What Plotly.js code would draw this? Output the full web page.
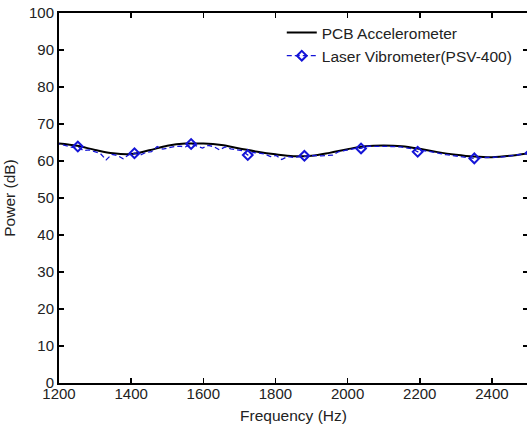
<!DOCTYPE html>
<html>
<head>
<meta charset="utf-8">
<script src="https://cdn.plot.ly/plotly-3.0.1.min.js"></script>
<style>
  html, body { margin: 0; padding: 0; overflow: hidden; background: #fff; }
  #chart { width: 529px; height: 425px; }
</style>
</head>
<body>
<div id="chart"></div>
<script>
// PCB Accelerometer (smooth curve)
const pcbFreq = [1200, 1250, 1300, 1350, 1400, 1450, 1500, 1550, 1600, 1650, 1700, 1750, 1800, 1850,
                 1900, 1950, 2000, 2050, 2100, 2150, 2200, 2250, 2300, 2350, 2400, 2450, 2500];
const pcbPower = [64.7, 64.1, 63.0, 62.1, 61.9, 62.9, 64.1, 64.7, 64.7, 64.3, 63.4, 62.5, 61.8, 61.3,
                  61.4, 62.2, 63.2, 64.0, 64.2, 64.0, 63.3, 62.4, 61.7, 61.2, 61.0, 61.4, 62.1];

// Laser Vibrometer (PSV-400), noisy measurement
const laserFreq = [1189.4, 1205.1, 1220.8, 1236.5, 1252.2, 1267.9, 1283.6, 1299.3, 1315.0, 1330.7,
                   1346.4, 1362.1, 1377.8, 1393.5, 1409.2, 1424.9, 1440.6, 1456.3, 1472.0, 1487.7,
                   1503.4, 1519.1, 1534.8, 1550.5, 1566.2, 1581.9, 1597.6, 1613.3, 1629.0, 1644.7,
                   1660.4, 1676.1, 1691.8, 1707.5, 1723.2, 1738.9, 1754.6, 1770.3, 1786.0, 1801.7,
                   1817.4, 1833.1, 1848.8, 1864.5, 1880.2, 1895.9, 1911.6, 1927.3, 1943.0, 1958.7,
                   1974.4, 1990.1, 2005.8, 2021.5, 2037.2, 2052.9, 2068.6, 2084.3, 2100.0, 2115.7,
                   2131.4, 2147.1, 2162.8, 2178.5, 2194.2, 2209.9, 2225.6, 2241.3, 2257.0, 2272.7,
                   2288.4, 2304.1, 2319.8, 2335.5, 2351.2, 2366.9, 2382.6, 2398.3, 2414.0, 2429.7,
                   2445.4, 2461.1, 2476.8, 2492.5, 2508.2];
const laserPower = [64.9, 64.5, 64.0, 63.7, 63.9, 62.8, 63.0, 62.4, 62.0, 60.3,
                    61.8, 61.5, 60.6, 61.7, 62.1, 61.6, 62.3, 62.5, 63.9, 63.2,
                    63.6, 63.9, 64.0, 63.8, 64.6, 64.1, 63.5, 64.2, 63.9, 63.0,
                    63.8, 63.3, 63.0, 62.8, 61.6, 62.3, 62.1, 61.9, 61.2, 61.5,
                    60.4, 61.2, 61.0, 61.1, 61.4, 61.3, 61.5, 61.4, 61.6, 61.6,
                    62.5, 62.9, 63.1, 63.4, 63.4, 64.0, 64.0, 64.1, 64.1, 64.0,
                    63.9, 63.8, 63.6, 63.3, 62.5, 62.8, 62.6, 62.2, 62.0, 61.7,
                    61.5, 61.4, 61.2, 61.0, 60.7, 60.9, 60.9, 60.9, 61.0, 61.1,
                    61.3, 61.5, 61.7, 62.0, 62.2];
const markerStart = 4, markerEvery = 10;

const xTicks = [1200, 1400, 1600, 1800, 2000, 2200, 2400];
const yTicks = [0, 10, 20, 30, 40, 50, 60, 70, 80, 90, 100];

const blue = 'rgb(20,20,215)';
const mkX = [], mkY = [];
for (let i = markerStart; i < laserFreq.length; i += markerEvery) {
  mkX.push(laserFreq[i]); mkY.push(laserPower[i]);
}

const traces = [
  { x: pcbFreq, y: pcbPower, mode: 'lines', name: 'PCB Accelerometer',
    line: { color: '#000', width: 2, shape: 'spline', smoothing: 1 } },
  { x: laserFreq, y: laserPower, mode: 'lines', showlegend: false, hoverinfo: 'skip',
    line: { color: blue, width: 1.3, dash: '5px,3px' } },
  { x: mkX, y: mkY, mode: 'markers', showlegend: false,
    marker: { symbol: 'diamond-open', size: 7.5, color: blue, line: { width: 2, color: blue } } },
  { x: [null], y: [null], mode: 'lines+markers', name: 'Laser Vibrometer(PSV-400)',
    line: { color: blue, width: 1.3, dash: '5px,3px' },
    marker: { symbol: 'diamond-open', size: 7.5, color: blue, line: { width: 2, color: blue } } }
];

const tickFont = { family: '"Liberation Sans Narrow", Arial, "Liberation Sans", sans-serif', size: 15, color: '#222' };
const labFont = { family: 'Arial, "Liberation Sans", sans-serif', size: 15.5, color: '#222' };

const layout = {
  width: 529, height: 425,
  margin: { l: 59, r: 1, t: 13, b: 42, pad: 0 },
  paper_bgcolor: '#fff', plot_bgcolor: '#fff',
  showlegend: true,
  legend: { x: 0.475, xanchor: 'left', y: 0.992, yanchor: 'top',
            bgcolor: 'rgba(0,0,0,0)', borderwidth: 0, font: labFont, traceorder: 'normal' },
  xaxis: {
    range: [1200, 2500], tickvals: xTicks, ticktext: xTicks.map(String),
    showgrid: false, zeroline: false, showline: true, linecolor: '#000', linewidth: 2,
    mirror: 'ticks', ticks: 'inside', ticklen: 5, tickwidth: 1.5, tickcolor: '#000',
    tickfont: tickFont, ticklabelstandoff: -4,
    title: { text: 'Frequency (Hz)', font: labFont, standoff: 9 }
  },
  yaxis: {
    range: [0, 100], tickvals: yTicks, ticktext: yTicks.map(String),
    showgrid: false, zeroline: false, showline: true, linecolor: '#000', linewidth: 2,
    mirror: 'ticks', ticks: 'inside', ticklen: 5, tickwidth: 1.5, tickcolor: '#000',
    tickfont: tickFont,
    title: { text: 'Power (dB)', font: labFont, standoff: 10 }
  }
};

Plotly.newPlot('chart', traces, layout, { displayModeBar: false, staticPlot: true });
</script>
</body>
</html>
